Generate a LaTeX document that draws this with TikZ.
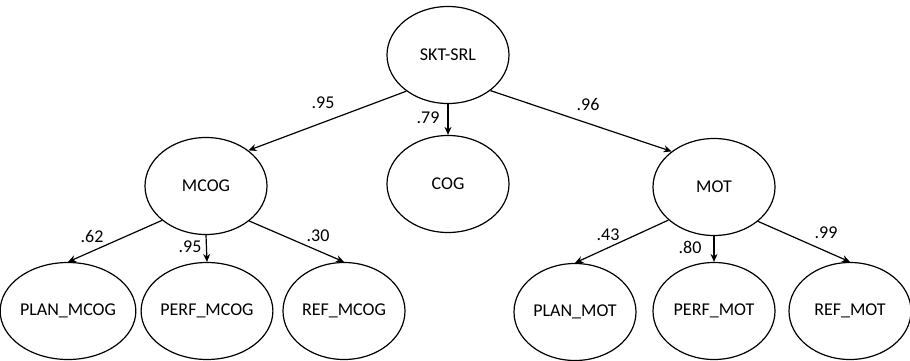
\documentclass[tikz,border=0pt]{standalone}
\usepackage{fontspec}
\setmainfont{Carlito}
\usetikzlibrary{shapes.geometric,arrows.meta}
\begin{document}
\begin{tikzpicture}[x=1pt,y=-1pt,
  latent/.style={draw,ellipse,line width=1.2pt,inner sep=0pt,minimum width=122pt,minimum height=97pt,font=\fontsize{18}{20}\selectfont},
  path/.style={line width=1.2pt,-{Stealth[length=8pt,width=7pt]}},
  lbl/.style={font=\fontsize{18}{20}\selectfont,inner sep=0pt}]
\useasboundingbox (0,0) rectangle (910,361);
\node[latent] (skt) at (448,55) {SKT-SRL};
\node[latent] (mcog) at (206,186) {MCOG};
\node[latent] (cog) at (448,184) {COG};
\node[latent] (mot) at (714,187) {MOT};
\node[latent] (planm) at (68,311) {PLAN\_MCOG};
\node[latent] (perfm) at (207,311) {PERF\_MCOG};
\node[latent] (refm) at (344,311) {REF\_MCOG};
\node[latent] (plano) at (575,312) {PLAN\_MOT};
\node[latent] (perfo) at (714,311) {PERF\_MOT};
\node[latent] (refo) at (850,311) {REF\_MOT};
\draw[path] (skt.221) -- (mcog.40);
\draw[path] (skt.south) -- (cog.north);
\draw[path] (skt.320) -- (mot.140);
\draw[path] (mcog.218) -- (planm.north);
\draw[path] (mcog.south) -- (perfm.north);
\draw[path] (mcog.321) -- (refm.north);
\draw[path] (mot.216) -- (plano.north);
\draw[path] (mot.south) -- (perfo.north);
\draw[path] (mot.322) -- (refo.north);
\node[lbl] (l1) at (323,103) {.95};
\node[lbl] (l2) at (428,118) {.79};
\node[lbl] (l3) at (588,104) {.96};
\node[lbl] (l4) at (92,236) {.62};
\node[lbl] (l5) at (190,247) {.95};
\node[lbl] (l6) at (318,236) {.30};
\node[lbl] (l7) at (608,235) {.43};
\node[lbl] (l8) at (690,247) {.80};
\node[lbl] (l9) at (826,233) {.99};
\end{tikzpicture}
\end{document}
